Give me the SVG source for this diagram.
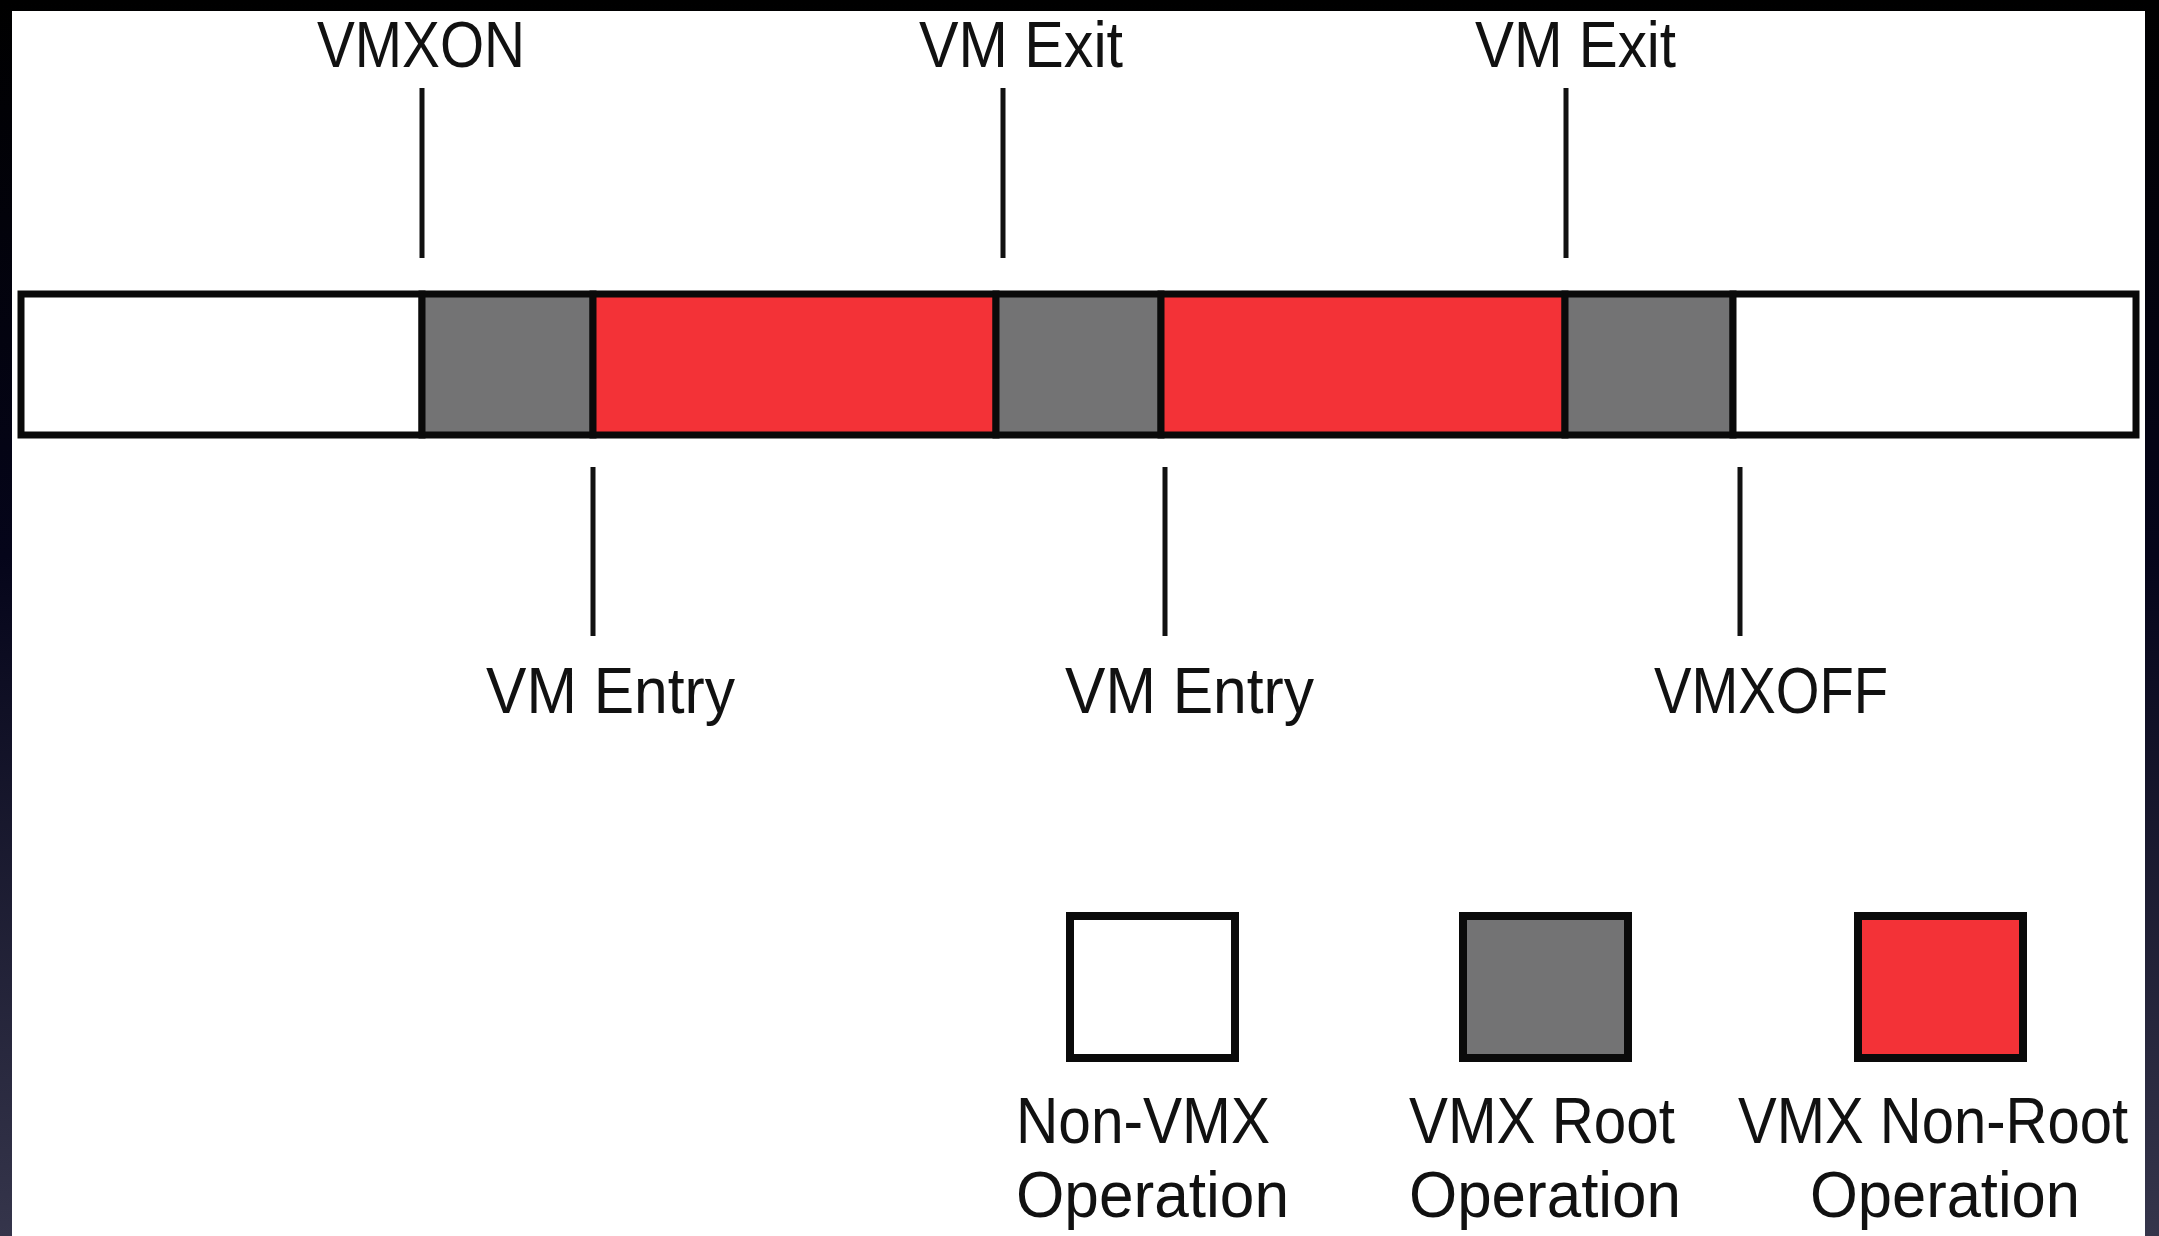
<svg xmlns="http://www.w3.org/2000/svg" width="2159" height="1236" viewBox="0 0 2159 1236">
  <defs>
    <linearGradient id="frameShade" x1="0" y1="0" x2="0" y2="1">
      <stop offset="0" stop-color="#000000"/>
      <stop offset="0.45" stop-color="#05051a"/>
      <stop offset="1" stop-color="#35354b"/>
    </linearGradient>
    <style>
      .lbl { font-family: "Liberation Sans", Arial, sans-serif; font-size: 64px; fill: #111111; }
      .seg { stroke: #0a0a0a; stroke-width: 7; }
      .nonvmx { fill: #ffffff; }
      .root { fill: #737374; }
      .nonroot { fill: #f33237; }
      .tick { stroke: #111111; stroke-width: 5; fill: none; }
      .key { stroke: #0a0a0a; stroke-width: 8; }
    </style>
  </defs>

  <!-- dark frame and white canvas -->
  <rect x="0" y="0" width="2159" height="1236" fill="url(#frameShade)"/>
  <rect x="12" y="11" width="2133" height="1225" fill="#ffffff"/>

  <!-- timeline bar -->
  <g id="timeline">
    <g id="seg-nonvmx-start"><rect class="seg nonvmx" x="21" y="294" width="401" height="141"/></g>
    <g id="seg-root-1"><rect class="seg root" x="422" y="294" width="171" height="141"/></g>
    <g id="seg-nonroot-1"><rect class="seg nonroot" x="593" y="294" width="403" height="141"/></g>
    <g id="seg-root-2"><rect class="seg root" x="996" y="294" width="165" height="141"/></g>
    <g id="seg-nonroot-2"><rect class="seg nonroot" x="1161" y="294" width="404" height="141"/></g>
    <g id="seg-root-3"><rect class="seg root" x="1565" y="294" width="168" height="141"/></g>
    <g id="seg-nonvmx-end"><rect class="seg nonvmx" x="1733" y="294" width="403" height="141"/></g>
  </g>

  <!-- tick lines from events to the bar -->
  <g id="connectors">
    <line class="tick" x1="422" y1="88" x2="422" y2="258"/>
    <line class="tick" x1="1003" y1="88" x2="1003" y2="258"/>
    <line class="tick" x1="1566" y1="88" x2="1566" y2="258"/>
    <line class="tick" x1="593" y1="467" x2="593" y2="636"/>
    <line class="tick" x1="1165" y1="467" x2="1165" y2="636"/>
    <line class="tick" x1="1740" y1="467" x2="1740" y2="636"/>
  </g>

  <!-- event labels -->
  <g id="ev-vmxon"><text class="lbl" x="317" y="67" textLength="208" lengthAdjust="spacingAndGlyphs">VMXON</text></g>
  <g id="ev-exit-1"><text class="lbl" x="919" y="67" textLength="204" lengthAdjust="spacingAndGlyphs">VM Exit</text></g>
  <g id="ev-exit-2"><text class="lbl" x="1475" y="67" textLength="201" lengthAdjust="spacingAndGlyphs">VM Exit</text></g>
  <g id="ev-entry-1"><text class="lbl" x="486" y="713" textLength="249" lengthAdjust="spacingAndGlyphs">VM Entry</text></g>
  <g id="ev-entry-2"><text class="lbl" x="1065" y="713" textLength="249" lengthAdjust="spacingAndGlyphs">VM Entry</text></g>
  <g id="ev-vmxoff"><text class="lbl" x="1654" y="713" textLength="234" lengthAdjust="spacingAndGlyphs">VMXOFF</text></g>

  <!-- legend -->
  <g id="key-nonvmx">
    <rect class="key nonvmx" x="1070" y="916" width="165" height="142"/>
    <text class="lbl" x="1016" y="1143" textLength="254" lengthAdjust="spacingAndGlyphs">Non-VMX</text>
    <text class="lbl" x="1016" y="1217" textLength="273" lengthAdjust="spacingAndGlyphs">Operation</text>
  </g>
  <g id="key-root">
    <rect class="key root" x="1463" y="916" width="165" height="142"/>
    <text class="lbl" x="1409" y="1143" textLength="266" lengthAdjust="spacingAndGlyphs">VMX Root</text>
    <text class="lbl" x="1409" y="1217" textLength="272" lengthAdjust="spacingAndGlyphs">Operation</text>
  </g>
  <g id="key-nonroot">
    <rect class="key nonroot" x="1858" y="916" width="165" height="142"/>
    <text class="lbl" x="1738" y="1143" font-size="61" textLength="390" lengthAdjust="spacingAndGlyphs">VMX Non-Root</text>
    <text class="lbl" x="1810" y="1217" textLength="270" lengthAdjust="spacingAndGlyphs">Operation</text>
  </g>
</svg>
